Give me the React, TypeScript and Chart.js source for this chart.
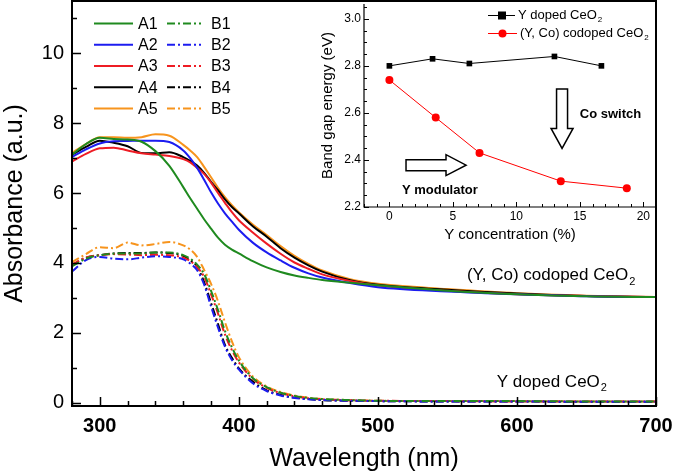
import React, { useEffect, useRef } from 'react';
import { Chart, registerables } from 'chart.js';

Chart.register(...registerables);

// ---------- Main chart data ----------
const wavelengths = [280, 290, 300, 310, 320, 330, 340, 350, 360, 365, 370, 375, 380, 385, 390, 395, 400, 410, 420, 430, 440, 450, 460, 480, 500, 550, 600, 650, 700];

const A1 = [7.1, 7.4, 7.58, 7.55, 7.53, 7.47, 7.2, 6.78, 6.17, 5.85, 5.55, 5.25, 4.98, 4.72, 4.52, 4.38, 4.27, 4.05, 3.87, 3.74, 3.64, 3.57, 3.51, 3.43, 3.36, 3.2, 3.1, 3.04, 3.02];
const A2 = [7.03, 7.25, 7.42, 7.48, 7.49, 7.5, 7.5, 7.46, 7.22, 7.0, 6.72, 6.38, 6.02, 5.7, 5.42, 5.18, 4.95, 4.58, 4.3, 4.07, 3.86, 3.7, 3.58, 3.42, 3.3, 3.18, 3.1, 3.04, 3.02];
const A3 = [6.9, 7.12, 7.28, 7.3, 7.22, 7.14, 7.1, 7.06, 6.97, 6.88, 6.72, 6.55, 6.3, 6.0, 5.72, 5.45, 5.22, 4.87, 4.55, 4.26, 4.01, 3.83, 3.67, 3.48, 3.35, 3.2, 3.1, 3.05, 3.02];
const A4 = [7.1, 7.32, 7.5, 7.44, 7.34, 7.15, 7.14, 7.17, 7.03, 6.92, 6.79, 6.58, 6.32, 6.08, 5.82, 5.6, 5.42, 5.05, 4.75, 4.42, 4.15, 3.93, 3.75, 3.5, 3.37, 3.23, 3.12, 3.05, 3.02];
const A5 = [7.15, 7.4, 7.6, 7.6, 7.58, 7.6, 7.68, 7.64, 7.38, 7.22, 7.03, 6.75, 6.45, 6.15, 5.88, 5.65, 5.45, 5.1, 4.8, 4.48, 4.2, 3.97, 3.78, 3.53, 3.4, 3.25, 3.13, 3.06, 3.02];

const B1 = [3.9, 4.12, 4.22, 4.26, 4.27, 4.27, 4.3, 4.3, 4.22, 4.12, 3.95, 3.68, 3.2, 2.65, 2.05, 1.58, 1.2, 0.7, 0.44, 0.28, 0.19, 0.13, 0.1, 0.07, 0.05, 0.04, 0.04, 0.03, 0.03];
const B2 = [3.75, 4.08, 4.17, 4.12, 4.1, 4.15, 4.19, 4.17, 4.1, 3.98, 3.79, 3.38, 2.75, 2.15, 1.6, 1.22, 0.95, 0.55, 0.33, 0.2, 0.13, 0.09, 0.07, 0.05, 0.04, 0.03, 0.03, 0.02, 0.02];
const B3 = [3.95, 4.15, 4.22, 4.25, 4.24, 4.22, 4.23, 4.22, 4.15, 4.05, 3.88, 3.6, 3.1, 2.55, 1.95, 1.5, 1.15, 0.68, 0.42, 0.27, 0.18, 0.12, 0.09, 0.06, 0.05, 0.04, 0.03, 0.03, 0.03];
const B4 = [3.93, 4.15, 4.22, 4.27, 4.28, 4.28, 4.3, 4.28, 4.2, 4.08, 3.89, 3.45, 2.85, 2.25, 1.65, 1.28, 0.98, 0.6, 0.35, 0.22, 0.14, 0.1, 0.07, 0.05, 0.04, 0.03, 0.03, 0.02, 0.02];
const B5 = [4.02, 4.25, 4.45, 4.42, 4.58, 4.5, 4.54, 4.6, 4.5, 4.38, 4.17, 3.8, 3.4, 2.9, 2.3, 1.75, 1.3, 0.75, 0.46, 0.3, 0.2, 0.14, 0.1, 0.07, 0.05, 0.04, 0.04, 0.03, 0.03];

const namesA = ['A1', 'A2', 'A3', 'A4', 'A5'];
const namesB = ['B1', 'B2', 'B3', 'B4', 'B5'];
const seriesA = [A1, A2, A3, A4, A5];
const seriesB = [B1, B2, B3, B4, B5];
const colors = ['#1f8a1f', '#1c1cf0', '#ee1c24', '#000000', '#f7941d'];

const xTickValues = [300, 400, 500, 600, 700];
const yTickValues = [0, 2, 4, 6, 8, 10];

// ---------- Inset data ----------
const yDopedConc = [0, 3.4, 6.3, 13.0, 16.7];
const yDopedGap = [2.8, 2.83, 2.81, 2.84, 2.8];
const coDopedConc = [0, 3.65, 7.1, 13.5, 18.7];
const coDopedGap = [2.74, 2.58, 2.43, 2.31, 2.28];
const insetXTickValues = [0, 5, 10, 15, 20];
const insetYTickValues = [2.2, 2.4, 2.6, 2.8, 3.0];

const FONT = 'Arial, "Liberation Sans", Helvetica, sans-serif';

function drawSubText(ctx: any, main: string, sub: string, x: number, y: number, size: number, bold = false) {
  ctx.save();
  ctx.fillStyle = '#000';
  ctx.textBaseline = 'middle';
  ctx.textAlign = 'left';
  ctx.font = `${bold ? 'bold ' : ''}${size}px ${FONT}`;
  ctx.fillText(main, x, y);
  const w = ctx.measureText(main).width;
  ctx.font = `${bold ? 'bold ' : ''}${Math.round(size * 0.62)}px ${FONT}`;
  ctx.fillText(sub, x + w + 1, y + size * 0.38);
  ctx.restore();
}

function drawArrow(ctx: any, x0: number, y0: number, x1: number, y1: number, headStart: number, shaftHalf: number, headHalf: number) {
  ctx.save();
  ctx.strokeStyle = '#000';
  ctx.fillStyle = '#fff';
  ctx.lineWidth = 1.5;
  ctx.beginPath();
  if (y0 === y1) {
    ctx.moveTo(x0, y0 - shaftHalf);
    ctx.lineTo(headStart, y0 - shaftHalf);
    ctx.lineTo(headStart, y0 - headHalf);
    ctx.lineTo(x1, y0);
    ctx.lineTo(headStart, y0 + headHalf);
    ctx.lineTo(headStart, y0 + shaftHalf);
    ctx.lineTo(x0, y0 + shaftHalf);
  } else {
    ctx.moveTo(x0 - shaftHalf, y0);
    ctx.lineTo(x0 - shaftHalf, headStart);
    ctx.lineTo(x0 - headHalf, headStart);
    ctx.lineTo(x0, y1);
    ctx.lineTo(x0 + headHalf, headStart);
    ctx.lineTo(x0 + shaftHalf, headStart);
    ctx.lineTo(x0 + shaftHalf, y0);
  }
  ctx.closePath();
  ctx.fill();
  ctx.stroke();
  ctx.restore();
}

const frameTicks = {
  id: 'frameTicks',
  afterDatasetsDraw(chart: any, _args: any, opts: any) {
    const { ctx, chartArea: ca, scales } = chart;
    ctx.save();
    ctx.strokeStyle = '#000';
    ctx.lineWidth = opts.lineWidth;
    ctx.beginPath();
    if (opts.box) {
      ctx.rect(ca.left, ca.top, ca.right - ca.left, ca.bottom - ca.top);
    } else {
      ctx.moveTo(ca.left, ca.top);
      ctx.lineTo(ca.left, ca.bottom);
      ctx.lineTo(ca.right, ca.bottom);
    }
    ctx.stroke();
    ctx.lineWidth = opts.tickWidth;
    ctx.beginPath();
    const xs = scales.x;
    const ys = scales.y;
    const i0 = Math.ceil(xs.min / opts.xMinor - 1e-9);
    const i1 = Math.floor(xs.max / opts.xMinor + 1e-9);
    for (let i = i0; i <= i1; i++) {
      const v = i * opts.xMinor;
      const r = v / opts.xMajor;
      const major = Math.abs(r - Math.round(r)) < 1e-6;
      const px = Math.round(xs.getPixelForValue(v)) + 0.5;
      ctx.moveTo(px, ca.bottom);
      ctx.lineTo(px, ca.bottom - (major ? opts.majorLen : opts.minorLen));
    }
    const j0 = Math.ceil(ys.min / opts.yMinor - 1e-9);
    const j1 = Math.floor(ys.max / opts.yMinor + 1e-9);
    for (let j = j0; j <= j1; j++) {
      const v = j * opts.yMinor;
      const r = v / opts.yMajor;
      const major = Math.abs(r - Math.round(r)) < 1e-6;
      const py = Math.round(ys.getPixelForValue(v)) + 0.5;
      ctx.moveTo(ca.left, py);
      ctx.lineTo(ca.left + (major ? opts.majorLen : opts.minorLen), py);
    }
    ctx.stroke();
    ctx.restore();
  },
};

const mainDecor = {
  id: 'mainDecor',
  afterDraw(chart: any) {
    const { ctx, scales } = chart;
    const rowY = [23.5, 44.8, 66, 87.3, 108.5];
    ctx.save();
    ctx.font = `16px ${FONT}`;
    ctx.textBaseline = 'middle';
    ctx.fillStyle = '#000';
    for (let i = 0; i < 5; i++) {
      const y = rowY[i];
      ctx.strokeStyle = colors[i];
      ctx.lineWidth = 2;
      ctx.setLineDash([]);
      ctx.beginPath();
      ctx.moveTo(94, y);
      ctx.lineTo(133, y);
      ctx.stroke();
      ctx.setLineDash([8, 3, 2, 3]);
      ctx.beginPath();
      ctx.moveTo(167, y);
      ctx.lineTo(201, y);
      ctx.stroke();
      ctx.setLineDash([]);
      ctx.fillText(namesA[i], 138, y + 1);
      ctx.fillText(namesB[i], 211, y + 1);
    }
    ctx.restore();
    const xs = scales.x;
    const ys = scales.y;
    drawSubText(ctx, '(Y, Co) codoped CeO', '2', xs.getPixelForValue(564), ys.getPixelForValue(3.65), 17);
    drawSubText(ctx, 'Y doped CeO', '2', xs.getPixelForValue(585.5), ys.getPixelForValue(0.59), 17);
  },
};

const insetDecor = {
  id: 'insetDecor',
  afterDraw(chart: any) {
    const { ctx, scales } = chart;
    const xs = scales.x;
    const ys = scales.y;
    ctx.save();
    ctx.lineWidth = 1;
    ctx.strokeStyle = '#000';
    ctx.beginPath();
    ctx.moveTo(188, 15.5);
    ctx.lineTo(215, 15.5);
    ctx.stroke();
    ctx.fillStyle = '#000';
    ctx.fillRect(198, 11.5, 8, 8);
    ctx.strokeStyle = '#ff0000';
    ctx.beginPath();
    ctx.moveTo(188, 33.5);
    ctx.lineTo(217, 33.5);
    ctx.stroke();
    ctx.fillStyle = '#ff0000';
    ctx.beginPath();
    ctx.arc(202.5, 33.5, 4, 0, Math.PI * 2);
    ctx.fill();
    ctx.restore();
    drawSubText(ctx, 'Y doped CeO', '2', 218, 15, 13);
    drawSubText(ctx, '(Y, Co) codoped CeO', '2', 220, 33, 13);

    const ax = xs.getPixelForValue(13.6);
    drawArrow(ctx, ax, ys.getPixelForValue(2.702), ax, ys.getPixelForValue(2.449), ys.getPixelForValue(2.534), 5.5, 11);
    const ay = ys.getPixelForValue(2.378);
    drawArrow(ctx, xs.getPixelForValue(1.31), ay, xs.getPixelForValue(6.04), ay, xs.getPixelForValue(4.46), 5.5, 10.5);

    ctx.save();
    ctx.font = `bold 13px ${FONT}`;
    ctx.fillStyle = '#000';
    ctx.textBaseline = 'middle';
    ctx.fillText('Co switch', xs.getPixelForValue(15.0), ys.getPixelForValue(2.592));
    ctx.fillText('Y modulator', xs.getPixelForValue(0.99), ys.getPixelForValue(2.272));
    ctx.restore();
  },
};

function fixX(h: number) {
  return (s: any) => { s.height = h; s.paddingLeft = 0; s.paddingRight = 0; };
}
function fixY(w: number) {
  return (s: any) => { s.width = w; s.paddingTop = 0; s.paddingBottom = 0; };
}

export default function App() {
  const mainRef = useRef<HTMLCanvasElement>(null);
  const insetRef = useRef<HTMLCanvasElement>(null);

  useEffect(() => {
    const datasets: any[] = [];
    for (let i = 0; i < 5; i++) {
      datasets.push({
        label: namesA[i],
        data: wavelengths.map((w, k) => ({ x: w, y: seriesA[i][k] })),
        borderColor: colors[i],
        borderWidth: 2,
        pointRadius: 0,
        fill: false,
        cubicInterpolationMode: 'monotone',
      });
    }
    for (let i = 0; i < 5; i++) {
      datasets.push({
        label: namesB[i],
        data: wavelengths.map((w, k) => ({ x: w, y: seriesB[i][k] })),
        borderColor: colors[i],
        borderWidth: 2,
        borderDash: [8, 3, 2, 3],
        pointRadius: 0,
        fill: false,
        cubicInterpolationMode: 'monotone',
      });
    }

    const main = new Chart(mainRef.current as HTMLCanvasElement, {
      type: 'line',
      data: { datasets },
      plugins: [frameTicks, mainDecor],
      options: {
        responsive: false,
        animation: false,
        events: [],
        layout: { padding: { top: 1, right: 19, left: 0, bottom: 0 } },
        plugins: {
          legend: { display: false },
          tooltip: { enabled: false },
          frameTicks: { lineWidth: 2, tickWidth: 1.5, box: true, xMinor: 20, xMajor: 100, yMinor: 1, yMajor: 2, majorLen: 9, minorLen: 5 },
        } as any,
        scales: {
          x: {
            type: 'linear',
            min: 280,
            max: 700,
            afterBuildTicks: (s: any) => { s.ticks = xTickValues.map((v) => ({ value: v })); },
            afterFit: fixX(70),
            grid: { display: false, drawTicks: false },
            border: { display: false },
            ticks: { color: '#000', padding: 8, maxRotation: 0, font: { family: FONT, size: 20, weight: 'bold' } },
            title: { display: true, text: 'Wavelength (nm)', color: '#000', padding: { top: 0, bottom: 2 }, font: { family: FONT, size: 25 } },
          },
          y: {
            type: 'linear',
            min: -0.1,
            max: 11.5,
            afterBuildTicks: (s: any) => { s.ticks = yTickValues.map((v) => ({ value: v })); },
            afterFit: fixY(72),
            grid: { display: false, drawTicks: false },
            border: { display: false },
            ticks: { color: '#000', padding: 8, font: { family: FONT, size: 20 } },
            title: { display: true, text: 'Absorbance (a.u.)', color: '#000', padding: { top: 0, bottom: 0 }, font: { family: FONT, size: 25 } },
          },
        },
      } as any,
    });

    const inset = new Chart(insetRef.current as HTMLCanvasElement, {
      type: 'line',
      data: {
        datasets: [
          {
            label: 'Y doped CeO2',
            data: yDopedConc.map((c, k) => ({ x: c, y: yDopedGap[k] })),
            borderColor: '#000',
            backgroundColor: '#000',
            borderWidth: 1,
            pointStyle: 'rect',
            pointRadius: 4,
            pointBorderWidth: 0,
            tension: 0,
          },
          {
            label: '(Y, Co) codoped CeO2',
            data: coDopedConc.map((c, k) => ({ x: c, y: coDopedGap[k] })),
            borderColor: '#ff0000',
            backgroundColor: '#ff0000',
            borderWidth: 1,
            pointStyle: 'circle',
            pointRadius: 4,
            pointBorderWidth: 0,
            tension: 0,
          },
        ],
      },
      plugins: [frameTicks, insetDecor],
      options: {
        responsive: false,
        animation: false,
        events: [],
        layout: { padding: { top: 1, right: 19, left: 0, bottom: 0 } },
        plugins: {
          legend: { display: false },
          tooltip: { enabled: false },
          frameTicks: { lineWidth: 1.2, tickWidth: 1, box: false, xMinor: 1, xMajor: 5, yMinor: 0.05, yMajor: 0.2, majorLen: 5, minorLen: 3 },
        } as any,
        scales: {
          x: {
            type: 'linear',
            min: -2,
            max: 21,
            afterBuildTicks: (s: any) => { s.ticks = insetXTickValues.map((v) => ({ value: v })); },
            afterFit: fixX(43),
            grid: { display: false, drawTicks: false },
            border: { display: false },
            ticks: { color: '#000', padding: 2, maxRotation: 0, font: { family: FONT, size: 12 } },
            title: { display: true, text: 'Y concentration (%)', color: '#000', padding: { top: 0, bottom: 6 }, font: { family: FONT, size: 15 } },
          },
          y: {
            type: 'linear',
            min: 2.2,
            max: 3.063,
            afterBuildTicks: (s: any) => { s.ticks = insetYTickValues.map((v) => ({ value: v })); },
            afterFit: fixY(64),
            grid: { display: false, drawTicks: false },
            border: { display: false },
            ticks: { color: '#000', padding: 3, font: { family: FONT, size: 12 }, callback: (v: any) => Number(v).toFixed(1) },
            title: { display: true, text: 'Band gap energy (eV)', color: '#000', padding: { top: 19, bottom: 0 }, font: { family: FONT, size: 15 } },
          },
        },
      } as any,
    });

    return () => {
      main.destroy();
      inset.destroy();
    };
  }, []);

  return (
    <div style={{ position: 'absolute', left: 0, top: 0, width: 675, height: 476, background: '#fff' }}>
      <canvas ref={mainRef} width={675} height={476} style={{ position: 'absolute', left: 0, top: 0, width: 675, height: 476 }} />
      <canvas ref={insetRef} width={375} height={250} style={{ position: 'absolute', left: 300, top: 0, width: 375, height: 250 }} />
    </div>
  );
}
